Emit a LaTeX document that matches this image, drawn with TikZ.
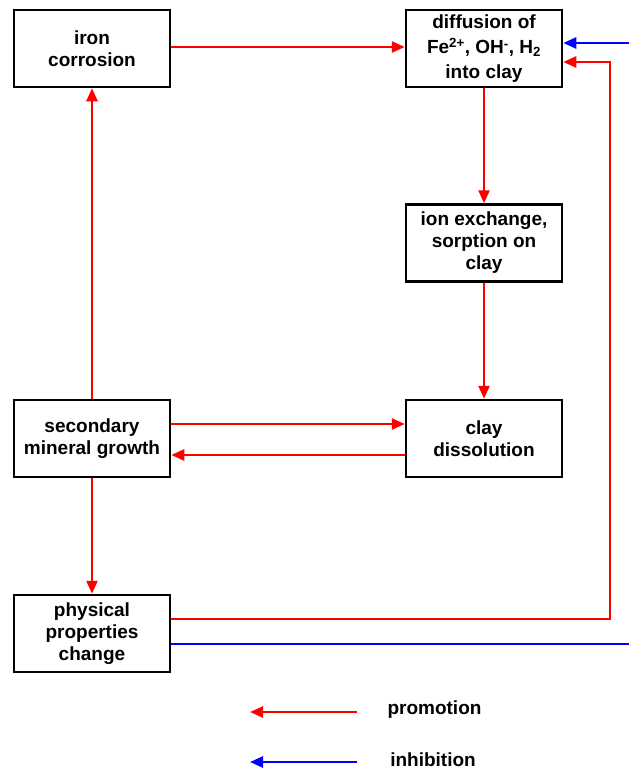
\documentclass[tikz,border=0pt]{standalone}
\usepackage{fontspec}
\setmainfont{Liberation Sans}
\usetikzlibrary{arrows.meta}
\begin{document}
\begin{tikzpicture}[x=1pt,y=-1pt,
  box/.style={draw,line width=2.5pt,minimum width=156pt,minimum height=77pt,inner sep=0pt,align=center,
    font=\fontsize{19pt}{22pt}\selectfont\bfseries},
  lbl/.style={font=\fontsize{19pt}{22pt}\selectfont\bfseries,inner sep=0pt},
  prom/.style={draw=red,line width=2.5pt,-{Triangle[length=13pt,width=11pt]}},
  inhib/.style={draw=blue,line width=2.5pt,-{Triangle[length=13pt,width=11pt]}}]
\clip (0,0) rectangle (629,771);
\node[box] (iron) at (92,48.5) {iron\\corrosion};
\node[box,font=\fontsize{19pt}{25pt}\selectfont\bfseries] (diff) at (484,48.5) {diffusion of\\Fe\textsuperscript{2+}, OH\textsuperscript{\raisebox{-0.2ex}{-}}, H\textsubscript{2}\\into clay};
\node[box] (ion) at (484,243) {ion exchange,\\sorption on\\clay};
\node[box] (sec) at (92,438.5) {secondary\\mineral growth};
\node[box] (clay) at (484,438.5) {clay\\dissolution};
\node[box] (phys) at (92,633.5) {physical\\properties\\change};
% connectors
\draw[prom] (iron.east |- 0,47) -- (diff.west |- 0,47);
\draw[prom] (diff.south) -- (ion.north);
\draw[prom] (ion.south) -- (clay.north);
\draw[prom] (sec.east |- 0,424) -- (clay.west |- 0,424);
\draw[prom] (clay.west |- 0,455) -- (sec.east |- 0,455);
\draw[prom] (sec.north) -- (iron.south);
\draw[prom] (sec.south) -- (phys.north);
\coordinate (rc1) at (610,619);
\coordinate (rc2) at (610,62);
\draw[prom] (phys.east |- rc1) -- (rc1) -- (rc2) -- (diff.east |- rc2);
\coordinate (bc1) at (645,644);
\coordinate (bc2) at (645,43);
\draw[inhib] (phys.east |- bc1) -- (bc1) -- (bc2) -- (diff.east |- bc2);
% legend
\coordinate (pa) at (357,712);
\coordinate (pb) at (250,712);
\draw[prom] (pa) -- (pb);
\node[lbl] (ptext) at (434.5,710) {promotion};
\coordinate (ia) at (357,762);
\coordinate (ib) at (250,762);
\draw[inhib] (ia) -- (ib);
\node[lbl] (itext) at (433,760) {inhibition};
\end{tikzpicture}
\end{document}
